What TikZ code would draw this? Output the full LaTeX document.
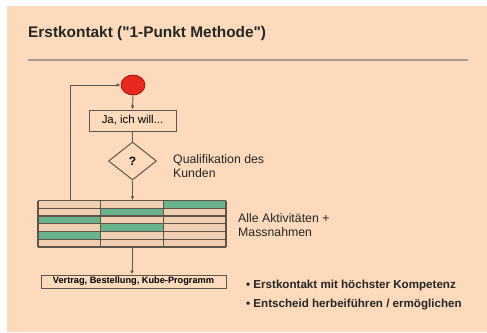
\documentclass[tikz,border=0pt]{standalone}
\usepackage{fontspec}
\setmainfont{Liberation Sans}
\newfontfamily\plainquote{Liberation Sans}[Ligatures=Common]
\usetikzlibrary{arrows.meta,shapes.geometric}
\definecolor{peach}{RGB}{252,218,187}
\definecolor{celltan}{RGB}{240,207,178}
\definecolor{cellgreen}{RGB}{104,178,140}
\definecolor{lineclr}{RGB}{95,85,75}
\definecolor{ruleclr}{RGB}{170,155,140}
\definecolor{redfill}{RGB}{232,40,30}
\tikzset{
  arr/.style={draw=lineclr, line width=0.9pt, -{Latex[length=4pt,width=3.5pt]}},
  plain/.style={draw=lineclr, line width=0.9pt},
  boxnode/.style={draw=lineclr, line width=1pt, fill=peach, inner sep=0pt},
  lbl/.style={inner sep=0pt, font=\fontsize{12.3}{14}\selectfont, align=left, text=black!85},
  cellline/.style={draw=lineclr, line width=1.1pt},
  bul/.style={anchor=base west, inner sep=0pt, font=\bfseries\fontsize{11.6}{13}\selectfont, text=black!85},
}
\begin{document}
\begin{tikzpicture}[x=1pt,y=-1pt]
\useasboundingbox (0,0) rectangle (487,332);
\fill[white] (0,0) rectangle (487,332);
\fill[peach] (7,6) rectangle (487,332);
% title
\node[anchor=base west, inner sep=0pt, font=\bfseries\fontsize{15.4}{17}\selectfont, text=black!85] (title) at (28,37) {Erstkontakt ({\plainquote"}1-Punkt Methode{\plainquote"})};
\draw[ruleclr, line width=1.3pt] (28,60) coordinate (r1) -- (468,60) coordinate (r2);
% flow
\node[ellipse, draw=red!60!black, line width=0.6pt, fill=redfill, minimum width=24pt, minimum height=20pt, inner sep=0pt] (start) at (133,85) {};
\node[boxnode, minimum width=87pt, minimum height=21pt, font=\fontsize{11.4}{12}\selectfont] (ja) at (132.5,120.5) {Ja, ich will...};
\node[diamond, boxnode, minimum width=48pt, minimum height=38pt, font=\bfseries\fontsize{12}{12}\selectfont] (q) at (132.5,161) {?};
\node[lbl, anchor=west] (qlab) at (173,166) {Qualifikation des\\Kunden};
% table
\node[inner sep=0pt, minimum width=188pt, minimum height=46.5pt] (tab) at (132,223.75) {};
\foreach \r/\c in {1/3,2/2,3/1,4/2,5/1}{
  \fill[cellgreen] ({38+(\c-1)*62.67},{200.5+(\r-1)*7.75}) rectangle ({38+\c*62.67},{200.5+\r*7.75});
}
\foreach \r/\c in {1/1,1/2,2/1,2/3,3/2,3/3,4/1,4/3,5/2,5/3,6/1,6/2,6/3}{
  \fill[celltan] ({38+(\c-1)*62.67},{200.5+(\r-1)*7.75}) rectangle ({38+\c*62.67},{200.5+\r*7.75});
}
\foreach \i in {0,...,6}{
  \draw[cellline] (38,{200.5+\i*7.75}) -- (226,{200.5+\i*7.75});
}
\foreach \i in {0,...,3}{
  \draw[cellline] ({38+\i*62.67},200.5) -- ({38+\i*62.67},247);
}
\node[lbl, anchor=west] (alab) at (238,225.5) {Alle Aktivitäten +\\Massnahmen};
\node[boxnode, minimum width=185pt, minimum height=13pt, font=\bfseries\fontsize{9.2}{10}\selectfont] (vb) at (133.5,281.5) {Vertrag, Bestellung, Kube-Programm};
% connectors
\coordinate (loopbot) at (70,200.5);
\draw[arr] (loopbot) |- (start.west);
\draw[arr] (start.south) -- (ja.north);
\draw[plain] (ja.south) -- (q.north);
\draw[arr] (q.south) -- (q.south |- tab.north);
\draw[arr] (tab.south) -- (tab.south |- vb.north);
% bullets
\node[bul] (b1) at (246,288.5) {• Erstkontakt mit höchster Kompetenz};
\node[bul] (b2) at (246,307.5) {• Entscheid herbeiführen / ermöglichen};
\end{tikzpicture}
\end{document}
